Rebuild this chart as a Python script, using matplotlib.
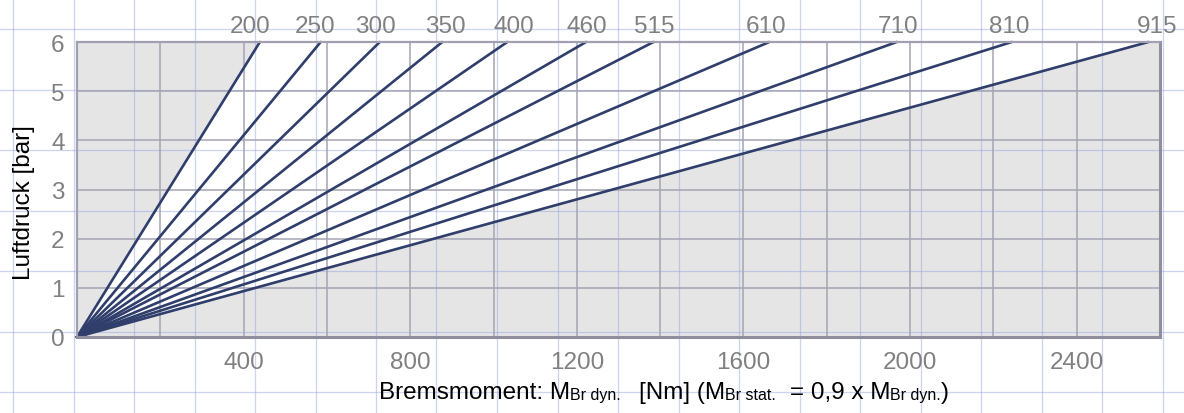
import numpy as np
import matplotlib
matplotlib.use("Agg")
import matplotlib.pyplot as plt
from matplotlib import rcParams
from matplotlib.transforms import IdentityTransform

rcParams['font.family'] = ['Liberation Sans', 'DejaVu Sans']

# brake sizes and the torque each one reaches at 6 bar
sizes = ['200', '250', '300', '350', '400', '460', '515', '610', '710', '810', '915']
torque_at_6bar = [439, 585, 727, 877, 1033, 1222, 1384, 1662, 1968, 2244, 2572]
p_max = 6
x_ticks = [400, 800, 1200, 1600, 2000, 2400]
y_ticks = [0, 1, 2, 3, 4, 5, 6]

W, H = 1184, 414
fig = plt.figure(figsize=(W / 100, H / 100), dpi=100)
ax = fig.add_axes([77 / W, 1 - 338 / H, (1160 - 77) / W, (338 - 43) / H])
ax.set_facecolor('none')
ax.set_xlim(0, 2600)
ax.set_ylim(0, 6)

grey = '#e5e5e5'
navy = '#2f3e6b'

# grey areas outside the fan of lines
ax.fill([0, torque_at_6bar[0], 0], [0, p_max, p_max], color=grey, lw=0, zorder=0.5)
ax.fill([0, torque_at_6bar[-1], 2600, 2600], [0, p_max, p_max, 0], color=grey, lw=0, zorder=0.5)

# graph paper background over the whole figure
paper = dict(color=(0.55, 0.63, 0.88), alpha=0.45, lw=0.9, transform=fig.transFigure,
             clip_on=False, zorder=0.8)
for k in range(20):
    xp = (13 + 60.5 * k) / W
    ax.plot([xp, xp], [0, 1], **paper)
for k in range(7):
    yp = 1 - (30 + 60.5 * k) / H
    ax.plot([0, 1], [yp, yp], **paper)

# grid
ax.set_xticks(x_ticks)
ax.set_xticks(np.arange(200, 2600, 200), minor=True)
ax.set_yticks(y_ticks)
ax.grid(True, which='both', color='#a4a4b4', lw=1.1, zorder=1)
ax.tick_params(which='both', length=0)
ax.tick_params(axis='x', pad=10, labelsize=17.5, labelcolor='#808080')
ax.tick_params(axis='y', pad=9, labelsize=17.5, labelcolor='#808080')

for side in ['top', 'left']:
    ax.spines[side].set_color('#a0a0b0')
    ax.spines[side].set_linewidth(1.6)
for side in ['bottom', 'right']:
    ax.spines[side].set_color('#8e8e9e')
    ax.spines[side].set_linewidth(2.2)
for s in ax.spines.values():
    s.set_zorder(3)

# characteristic lines, labels slightly shifted as in the original
label_dx = [-10, -6, -4, 3, 7, 1, 1, -3, 1, -2, 9]  # pixels
for lab, t, dx in zip(sizes, torque_at_6bar, label_dx):
    ax.plot([0, t], [0, p_max], color=navy, lw=1.9, solid_capstyle='round',
            clip_on=False, zorder=2)
    ax.annotate(lab, xy=(t, p_max), xytext=(dx * 0.72, 7.5), textcoords='offset points',
                ha='center', va='baseline', fontsize=17.5, color='#808080',
                annotation_clip=False)

fig.text(24 / W, 1 - 203 / H, 'Luftdruck [bar]', rotation=90, ha='center', va='center',
         fontsize=17.5, color='black')

# x label built from pieces so the subscripts sit on the baseline
main_fs, sub_fs = 17.5, 11.5
pieces = [('Bremsmoment: M', main_fs, 0), ('Br dyn.', sub_fs, 18), ('[Nm] (M', main_fs, 0),
          ('Br stat.', sub_fs, 14), ('= 0,9 x M', main_fs, 0), ('Br dyn.', sub_fs, 0),
          (')', main_fs, 0)]
renderer = fig.canvas.get_renderer()
texts, widths = [], []
for s, fs, gap in pieces:
    t = fig.text(0, 0, s, fontsize=fs, color='black', va='baseline', ha='left',
                 transform=IdentityTransform())
    texts.append(t)
    widths.append(t.get_window_extent(renderer).width + gap)
x0 = 664 - sum(widths) / 2
base = H - 399
for (s, fs, gap), t, w in zip(pieces, texts, widths):
    t.set_position((x0, base - (1.5 if fs == sub_fs else 0)))
    x0 += w

fig.savefig('out.png', dpi=100)
